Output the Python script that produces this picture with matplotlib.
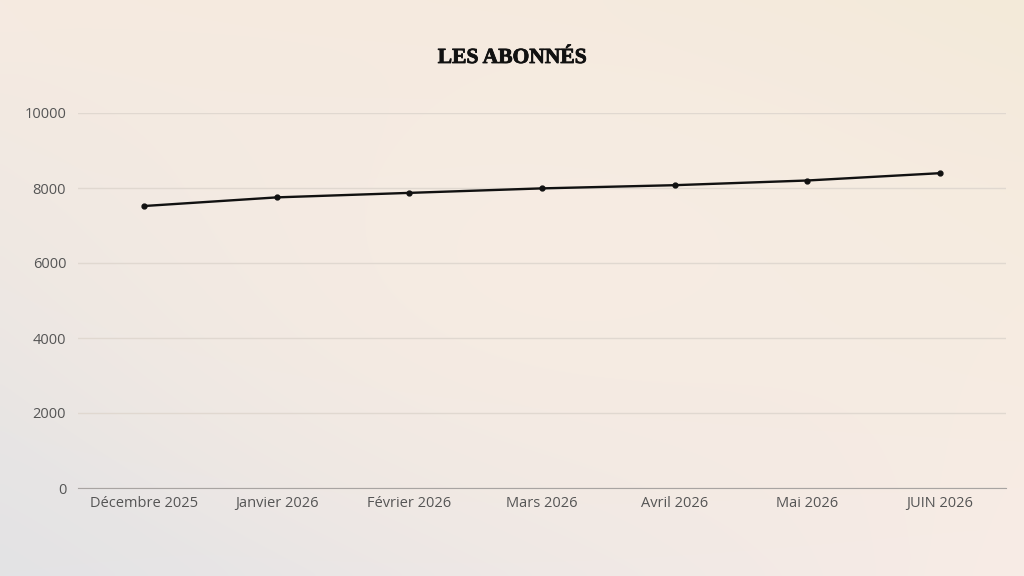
import numpy as np
import matplotlib
matplotlib.use("Agg")
import matplotlib.pyplot as plt
import matplotlib.patheffects as pe

# Data
months = ["Décembre 2025", "Janvier 2026", "Février 2026", "Mars 2026",
          "Avril 2026", "Mai 2026", "JUIN 2026"]
abonnes = [7520, 7750, 7870, 7990, 8075, 8200, 8395]
y_ticks = [0, 2000, 4000, 6000, 8000, 10000]

fig = plt.figure(figsize=(10.24, 5.76), dpi=100)

# Background gradient (corner colours)
tl = np.array([0xf6, 0xeb, 0xe1]) / 255
tr = np.array([0xf3, 0xea, 0xd9]) / 255
bl = np.array([0xe3, 0xe3, 0xe5]) / 255
br = np.array([0xf8, 0xec, 0xe6]) / 255
mid = np.array([0xf7, 0xec, 0xe3]) / 255
h, w = 120, 200
yy, xx = np.mgrid[0:1:h * 1j, 0:1:w * 1j]
grad = (tl[None, None] * ((1 - xx) * (1 - yy))[..., None]
        + tr[None, None] * (xx * (1 - yy))[..., None]
        + bl[None, None] * ((1 - xx) * yy)[..., None]
        + br[None, None] * (xx * yy)[..., None])
# pull the centre towards the warm pink tone
wgt = np.clip(1 - 1.6 * np.hypot(xx - 0.55, yy - 0.45), 0, 1)[..., None]
grad = grad * (1 - wgt) + mid[None, None] * wgt
bg = fig.add_axes([0, 0, 1, 1])
bg.imshow(grad, aspect="auto", extent=[0, 1, 0, 1], interpolation="bicubic")
bg.axis("off")

ax = fig.add_axes([78 / 1024, 1 - 488 / 576, (1006 - 78) / 1024, (488 - 113) / 576])
ax.patch.set_alpha(0)

x = np.arange(len(months))
ax.plot(x, abonnes, color="#111111", lw=1.7, marker="o", ms=3.5, zorder=3)

ax.set_xlim(-0.5, len(months) - 0.5)
ax.set_ylim(0, 10000)
ax.set_yticks(y_ticks)
ax.set_xticks(x)
ax.set_xticklabels(months)
ax.grid(axis="y", color="#e0d8d0", lw=1)
ax.set_axisbelow(True)
for s in ["top", "right", "left"]:
    ax.spines[s].set_visible(False)
ax.spines["bottom"].set_color("#a8a4a2")
ax.tick_params(length=0, labelsize=10.5, colors="#555555")
ax.tick_params(axis="x", pad=5.5)
ax.tick_params(axis="y", pad=8.5)
for lab in ax.get_xticklabels() + ax.get_yticklabels():
    lab.set_family("Open Sans")

fig.text(0.5, 1 - 58 / 576, "LES ABONNÉS", ha="center", va="center",
         fontsize=15.5, fontweight="bold", family="Liberation Serif", color="#111111",
         path_effects=[pe.withStroke(linewidth=0.6, foreground="#111111")])

fig.savefig("out.png", dpi=100)
